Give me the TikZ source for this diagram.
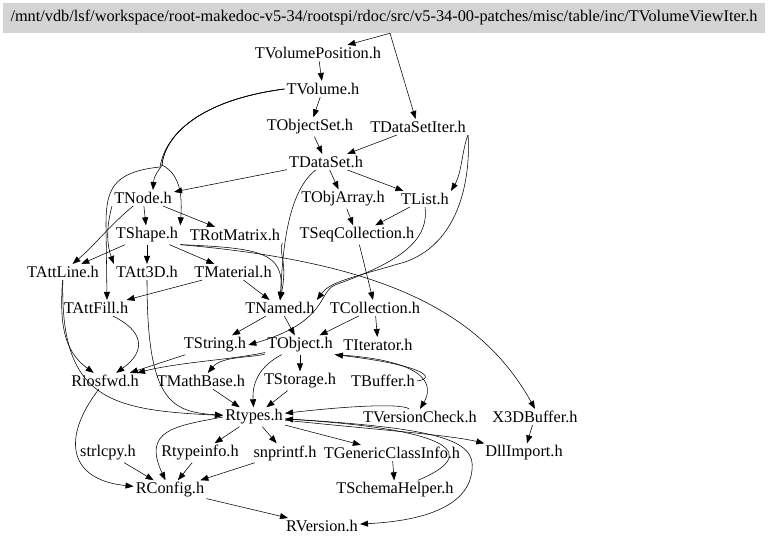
\documentclass[tikz,border=0pt]{standalone}
\usepackage{fontspec}
\setmainfont{Liberation Serif}
\usepackage{tikz}
\usetikzlibrary{arrows.meta}
\tikzset{x=1pt, y=-1pt, >={Triangle[length=8pt,width=6pt]},
  every node/.style={font=\fontsize{16.3}{19}\selectfont, inner sep=2pt},
  hdr/.style={fill=black!17, minimum width=762pt, minimum height=30pt}}

\begin{document}
\begin{tikzpicture}[line width=0.55pt]
   \useasboundingbox (0,0) rectangle (768,545);
   \node(0) [hdr] at (384,18) {/mnt/vdb/lsf/workspace/root-makedoc-v5-34/rootspi/rdoc/src/v5-34-00-patches/misc/table/inc/TVolumeViewIter.h};
   \node(1) at (318,53) {TVolumePosition.h};
   \node(2) at (323,89) {TVolume.h};
   \node(3) at (310,127) {TObjectSet.h};
   \node(4) at (418,127) {TDataSetIter.h};
   \node(5) at (326,162) {TDataSet.h};
   \node(6) at (143,198) {TNode.h};
   \node(7) at (343,199) {TObjArray.h};
   \node(8) at (425,199) {TList.h};
   \node(9) at (147,235) {TShape.h};
   \node(10) at (235,235) {TRotMatrix.h};
   \node(11) at (357,235) {TSeqCollection.h};
   \node(12) at (63,272) {TAttLine.h};
   \node(13) at (147,272) {TAtt3D.h};
   \node(14) at (233,272) {TMaterial.h};
   \node(15) at (96,308) {TAttFill.h};
   \node(16) at (280,308) {TNamed.h};
   \node(17) at (375,308) {TCollection.h};
   \node(18) at (215,345) {TString.h};
   \node(19) at (300,345) {TObject.h};
   \node(20) at (378,345) {TIterator.h};
   \node(21) at (105,381) {Riosfwd.h};
   \node(22) at (201,381) {TMathBase.h};
   \node(23) at (300,381) {TStorage.h};
   \node(24) at (383,381) {TBuffer.h};
   \node(25) at (254,417) {Rtypes.h};
   \node(26) at (420,417) {TVersionCheck.h};
   \node(27) at (535,417) {X3DBuffer.h};
   \node(28) at (108,453) {strlcpy.h};
   \node(29) at (200,453) {Rtypeinfo.h};
   \node(30) at (285,453) {snprintf.h};
   \node(31) at (392,453) {TGenericClassInfo.h};
   \node(32) at (524,453) {DllImport.h};
   \node(33) at (170,490) {RConfig.h};
   \node(34) at (395,490) {TSchemaHelper.h};
   \node(35) at (322,526) {RVersion.h};
   \draw[->] ([xshift=6pt]0.south) -- (1);
   \draw[->] ([xshift=6pt]0.south) -- (4);
   \draw[->] (1) -- (2);
   \draw[->] (2) -- (3);
   \draw[->] (2.west) .. controls (200,100) and (165,135) .. (162,165) .. controls (158,172) and (154,175) .. ([xshift=10pt]6.north);
   \draw[->] (2.west) .. controls (200,100) and (165,135) .. (162,165) .. controls (182,175) and (182,200) .. (9.north east);
   \draw[->] (2.west) .. controls (200,100) and (165,135) .. (160,167) .. controls (112,172) and (106,190) .. (106,225) -- ([xshift=11pt]15.north);
   \draw[->] (3) -- (5);
   \draw[->] (4) -- (5);
   \draw[->] (4.south east) .. controls (462,150) and (462,172) .. (8.north east);
   \draw[->] (4.south east) .. controls (470,160) and (468,240) .. (405,262) .. controls (350,278) and (330,282) .. (16.north east);
   \draw[->] (8.south) .. controls (430,245) and (390,265) .. (335,285) .. controls (318,292) and (328,322) .. (18.east);
   \draw[->] (5) -- (6);
   \draw[->] (5) -- (7);
   \draw[->] (5) -- (8);
   \draw[->] (5) .. controls (290,190) and (283,240) .. (16);
   \draw[->] (6) -- (9);
   \draw[->] (6) -- (10);
   \draw[->] (6) .. controls (110,225) and (95,245) .. (12);
   \draw[->] (6.south west) .. controls (105,232) and (108,248) .. (13.north west);
   \draw[->] (9) -- (12);
   \draw[->] (9) -- (13);
   \draw[->] (9) -- (14);
   \draw[->] (9.south east) .. controls (260,248) and (285,252) .. (16.north);
   \draw[->] (10.south east) .. controls (278,252) and (288,262) .. (16.north);
   \draw[->] (9.south east) .. controls (380,262) and (480,310) .. (27.north);
   \draw[->] (7) -- (11);
   \draw[->] (8) -- (11);
   \draw[->] (11) -- (17);
   \draw[->] (14) -- (16);
   \draw[->] (14) -- (15);
   \draw[->] (12) .. controls (60,320) and (62,350) .. (21);
   \draw[->] (12) .. controls (60,400) and (110,410) .. (25);
   \draw[->] (13) .. controls (147,400) and (170,412) .. (25);
   \draw[->] (15) .. controls (142,330) and (148,350) .. (21);
   \draw[->] (16) -- (18);
   \draw[->] (16) -- (19);
   \draw[->] (17) -- (19);
   \draw[->] (17) -- (20);
   \draw[->] (18) -- (21);
   \draw[->] (19) .. controls (250,358) and (222,356) .. (22);
   \draw[->] (19) .. controls (230,360) and (180,362) .. (21);
   \draw[->] (19) -- (23);
   \draw[->] (19) .. controls (262,365) and (252,380) .. (25);
   \draw[->] (19.south east) .. controls (428,360) and (434,385) .. (26.north);
   \draw[->] (24.east) .. controls (438,378) and (422,365) .. (19.south east);
   \draw[->] (22) -- (25);
   \draw[->] (23) -- (25);
   \draw[->] (26) .. controls (400,402) and (330,408) .. (25);
   \draw[->] (25.west) .. controls (175,426) and (142,430) .. (33);
   \draw[->] (25) -- (29);
   \draw[->] (25) -- (30);
   \draw[->] (25) -- (31);
   \draw[->] (25) .. controls (380,430) and (450,435) .. (32);
   \draw[->] (25) .. controls (440,428) and (476,440) .. (472,470) .. controls (468,515) and (400,522) .. (35);
   \draw[->] (34) .. controls (478,455) and (460,430) .. (25);
   \draw[->] (31) -- (34);
   \draw[->] (27) -- (32);
   \draw[->] (28) -- (33);
   \draw[->] (29) -- (33);
   \draw[->] (30) -- (33);
   \draw[->] (21) .. controls (60,440) and (70,480) .. (33);
   \draw[->] (33) -- (35);
\end{tikzpicture}
\end{document}
